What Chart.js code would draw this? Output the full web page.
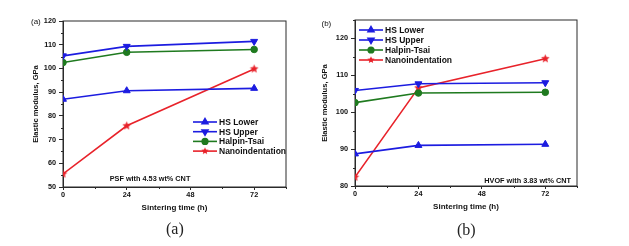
<!DOCTYPE html>
<html>
<head>
<meta charset="utf-8">
<script src="https://cdn.jsdelivr.net/npm/chart.js@4.4.1/dist/chart.umd.min.js"></script>
<style>
  body { margin: 0; background: #fff; width: 629px; height: 246px; position: relative; overflow: hidden; }
  .panel { position: absolute; top: 0; height: 246px; }
  #boxA { left: 0; width: 314px; }
  #boxB { left: 314px; width: 315px; }
  .cap { position: absolute; font-family: "Liberation Serif", serif; font-size: 16px; color: #222; line-height: 16px; }
</style>
</head>
<body>
<div class="panel" id="boxA"><canvas id="chartA"></canvas></div>
<div class="panel" id="boxB"><canvas id="chartB"></canvas></div>
<div class="cap" style="left:166px; top:221px;">(a)</div>
<div class="cap" style="left:457px; top:222px;">(b)</div>
<script>
// sintering times (h)
const hours = [0, 24, 72];
const seriesNames = ['HS Lower', 'HS Upper', 'Halpin-Tsai', 'Nanoindentation'];

// (a) PSF with 4.53 wt% CNT
const psfLower = [87.0, 90.6, 91.6];
const psfUpper = [105.3, 109.3, 111.4];
const psfHalpin = [102.5, 106.8, 108.0];
const psfNano = [55.5, 75.8, 99.8];

// (b) HVOF with 3.83 wt% CNT
const hvofLower = [88.7, 91.0, 91.3];
const hvofUpper = [105.9, 107.7, 108.0];
const hvofHalpin = [102.6, 105.2, 105.4];
const hvofNano = [82.4, 106.6, 114.5];

const xTicks = [0, 24, 48, 72];
const xMinor = [12, 36, 60, 84];
const yTicksA = [50, 60, 70, 80, 90, 100, 110, 120];
const yMinorA = [55, 65, 75, 85, 95, 105, 115];
const yTicksB = [80, 90, 100, 110, 120];
const yMinorB = [85, 95, 105, 115, 125];

const BLUE = '#1c1ce0';
const GREEN = '#1f7a1f';
const RED = '#e8222a';
const AXIS = '#2a2a2a';
const FONT = '"Liberation Sans", Arial, sans-serif';

function makeStar(color, r) {
    const c = document.createElement('canvas');
    const s = Math.ceil(r * 2) + 2;
    c.width = c.height = s;
    const g = c.getContext('2d');
    g.fillStyle = color;
    g.beginPath();
    for (let k = 0; k < 10; k++) {
        const rr = k % 2 ? r * 0.45 : r;
        const ang = -Math.PI / 2 + k * Math.PI / 5;
        g.lineTo(s / 2 + rr * Math.cos(ang), s / 2 + rr * Math.sin(ang));
    }
    g.closePath();
    g.fill();
    return c;
}
const star = makeStar(RED, 4.5);
const smallStar = makeStar(RED, 3.8);

// frame, minor ticks, legend, notes
const extras = {
    id: 'extras',
    beforeDatasetsDraw(chart, args, o) {
        const { ctx, chartArea: a, scales: { x, y } } = chart;
        ctx.save();
        ctx.strokeStyle = AXIS;
        ctx.lineWidth = 1;
        ctx.strokeRect(a.left, a.top, a.right - a.left, a.bottom - a.top);
        ctx.beginPath();
        o.xMinor.forEach(v => {
            const px = Math.round(x.getPixelForValue(v)) + 0.5;
            ctx.moveTo(px, a.bottom); ctx.lineTo(px, a.bottom + 2);
        });
        o.yMinor.forEach(v => {
            const py = Math.round(y.getPixelForValue(v)) + 0.5;
            ctx.moveTo(a.left, py); ctx.lineTo(a.left - 2, py);
        });
        ctx.stroke();
        ctx.restore();
    },
    afterDraw(chart, args, o) {
        const { ctx } = chart;
        ctx.save();
        // legend
        chart.data.datasets.forEach((ds, i) => {
            const yy = o.legend.y + i * o.legend.gap;
            ctx.strokeStyle = ds.borderColor;
            ctx.fillStyle = ds.backgroundColor;
            ctx.lineWidth = 1.6;
            ctx.beginPath();
            ctx.moveTo(o.legend.x, yy);
            ctx.lineTo(o.legend.x + 24, yy);
            ctx.stroke();
            const style = ds.pointStyle === star ? smallStar : ds.pointStyle;
            Chart.helpers.drawPoint(ctx, {
                pointStyle: style, radius: ds.pointRadius * 0.85,
                rotation: ds.pointRotation || 0, borderWidth: 1
            }, o.legend.x + 12, yy);
            ctx.fillStyle = '#111';
            ctx.font = 'bold 8.5px ' + FONT;
            ctx.textAlign = 'left';
            ctx.textBaseline = 'middle';
            ctx.fillText(ds.label, o.legend.x + 26, yy + 0.5);
        });
        // note inside plot
        ctx.fillStyle = '#111';
        ctx.font = 'bold 7.3px ' + FONT;
        ctx.textAlign = o.note.align;
        ctx.textBaseline = 'middle';
        ctx.fillText(o.note.text, o.note.x, o.note.y);
        // panel label
        ctx.font = '8px ' + FONT;
        ctx.textAlign = 'left';
        ctx.fillText(o.tag.text, o.tag.x, o.tag.y);
        ctx.restore();
    }
};

function makeSet(label, vals, color, style, extra) {
    return Object.assign({
        label: label,
        data: hours.map((h, i) => ({ x: h, y: vals[i] })),
        borderColor: color,
        backgroundColor: color,
        borderWidth: 1.6,
        pointStyle: style,
        pointRadius: 3.5,
        pointBorderWidth: 1,
        tension: 0
    }, extra || {});
}

function buildChart(id, vals, cfg) {
    return new Chart(document.getElementById(id), {
        type: 'line',
        data: {
            datasets: [
                makeSet(seriesNames[0], vals[0], BLUE, 'triangle', { pointRadius: 4 }),
                makeSet(seriesNames[1], vals[1], BLUE, 'triangle', { pointRadius: 4, pointRotation: 180 }),
                makeSet(seriesNames[2], vals[2], GREEN, 'circle', { pointRadius: 3.3 }),
                makeSet(seriesNames[3], vals[3], RED, star, { pointRadius: 4.5 })
            ]
        },
        options: {
            responsive: true,
            maintainAspectRatio: false,
            animation: false,
            layout: { padding: cfg.padding },
            plugins: {
                legend: { display: false },
                tooltip: { enabled: false },
                extras: cfg.extras
            },
            scales: {
                x: {
                    type: 'linear', min: 0, max: 84,
                    afterBuildTicks: s => { s.ticks = xTicks.map(v => ({ value: v })); },
                    afterFit: s => { s.height = cfg.xHeight; },
                    ticks: { font: { family: FONT, size: 7.3, weight: 'bold' }, color: '#111', padding: 1, maxRotation: 0 },
                    grid: { drawOnChartArea: false, tickLength: 3, color: AXIS },
                    border: { color: AXIS },
                    title: { display: true, text: 'Sintering time (h)', padding: 0, color: '#111',
                             font: { family: FONT, size: 8, weight: 'bold' } }
                },
                y: {
                    min: cfg.yMin, max: cfg.yMax,
                    afterBuildTicks: s => { s.ticks = cfg.yTicks.map(v => ({ value: v })); },
                    afterFit: s => { s.width = cfg.yWidth; },
                    ticks: { font: { family: FONT, size: 7.3, weight: 'bold' }, color: '#111', padding: 3 },
                    grid: { drawOnChartArea: false, tickLength: 4, color: AXIS },
                    border: { color: AXIS },
                    title: { display: true, text: 'Elastic modulus, GPa', padding: 0, color: '#111',
                             font: { family: FONT, size: 7.6, weight: 'bold' } }
                }
            }
        },
        plugins: [extras]
    });
}

buildChart('chartA', [psfLower, psfUpper, psfHalpin, psfNano], {
    padding: { left: 31, right: 28, top: 21, bottom: 33 },
    yWidth: 32, xHeight: 26,
    yMin: 50, yMax: 120, yTicks: yTicksA,
    extras: {
        xMinor: xMinor, yMinor: yMinorA,
        legend: { x: 193, y: 122, gap: 9.7 },
        note: { text: 'PSF with 4.53 wt% CNT', x: 150, y: 179, align: 'center' },
        tag: { text: '(a)', x: 31, y: 22 }
    }
});

buildChart('chartB', [hvofLower, hvofUpper, hvofHalpin, hvofNano], {
    padding: { left: 6.5, right: 52, top: 20, bottom: 34 },
    yWidth: 34.5, xHeight: 26,
    yMin: 80, yMax: 125, yTicks: yTicksB,
    extras: {
        xMinor: xMinor, yMinor: yMinorB,
        legend: { x: 45, y: 30, gap: 10 },
        note: { text: 'HVOF with 3.83 wt% CNT', x: 257, y: 181, align: 'right' },
        tag: { text: '(b)', x: 7.5, y: 24 }
    }
});
</script>
</body>
</html>
